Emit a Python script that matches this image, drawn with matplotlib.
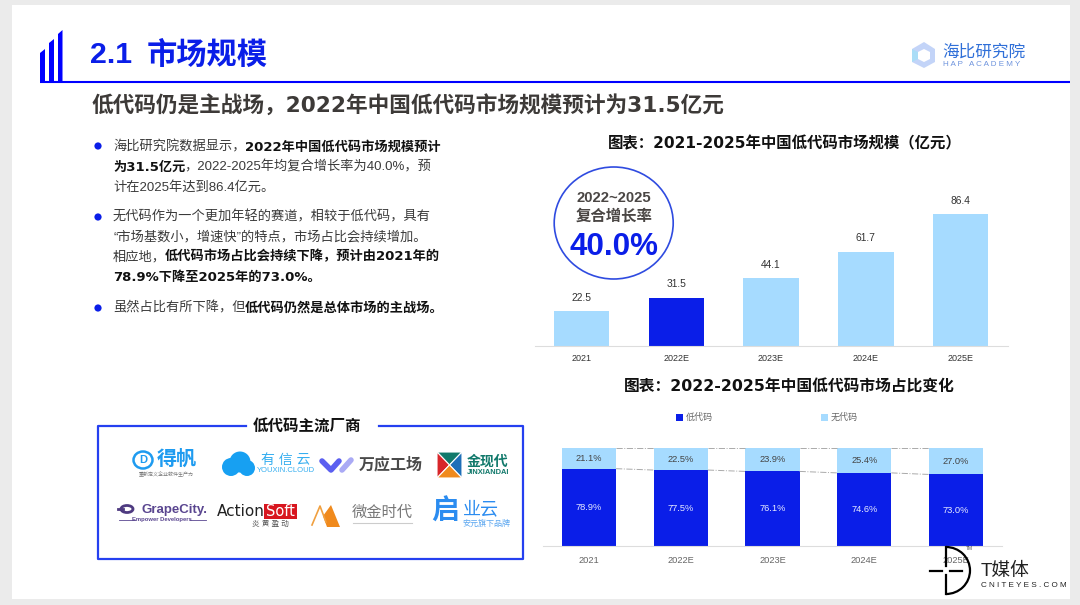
import matplotlib
matplotlib.use("Agg")
import matplotlib.pyplot as plt
from matplotlib.patches import Rectangle, Circle, Ellipse, Polygon, Arc

plt.rcParams['font.family'] = ['Liberation Sans', 'Noto Sans CJK SC', 'DejaVu Sans']
WIDE = ['DejaVu Sans', 'Noto Sans CJK SC']  # жирные цифры пошире

# Данные
years = ["2021", "2022E", "2023E", "2024E", "2025E"]
market_size = [22.5, 31.5, 44.1, 61.7, 86.4]
low_code = [78.9, 77.5, 76.1, 74.6, 73.0]
no_code = [21.1, 22.5, 23.9, 25.4, 27.0]

BLUE = "#0a1ee8"
LIGHT = "#a6dbff"
W, H = 1080, 605

fig = plt.figure(figsize=(W / 100, H / 100), dpi=100, facecolor="#ebebeb")

# Слой в пикселях для оформления
page = fig.add_axes([0, 0, 1, 1])
page.set_xlim(0, W)
page.set_ylim(H, 0)
page.axis("off")
page.add_patch(Rectangle((12, 5), 1058, 594, fc="white", ec="none"))


def axes_px(x0, y0, x1, y1):
    return fig.add_axes([x0 / W, 1 - y1 / H, (x1 - x0) / W, (y1 - y0) / H], facecolor="none")


def txt(x, y, s, size, color="#333333", weight="normal", ha="center", **kw):
    return page.text(x, y, s, fontsize=size, color=color, fontweight=weight, ha=ha, va="center", **kw)


def runs(x, y, parts, size=9.5):
    # строка из обычных и жирных кусков
    rend = fig.canvas.get_renderer()
    for s, bold in parts:
        if bold:
            t = txt(x, y, s, size, "#111111", "bold", ha="left", family=WIDE)
        else:
            t = txt(x, y, s, size, "#3a3a3a", ha="left")
        x = page.transData.inverted().transform(t.get_window_extent(rend).corners())[:, 0].max() - 1


# Шапка
for x0, x1, top in [(40, 45, 49), (49, 54, 39), (58, 62.5, 30)]:
    page.add_patch(Polygon([(x0, 82), (x0, top + 4), (x1, top), (x1, 82)], fc="#0000ff", ec="none"))
page.plot([39.5, 1070], [82, 82], color="#0000ff", lw=1.5, solid_capstyle="butt")
txt(90, 55, "2.1", 21.8, BLUE, "bold", ha="left")
txt(147, 55, "市场规模", 21.8, BLUE, "bold", ha="left")
txt(92, 105, "低代码仍是主战场，2022年中国低代码市场规模预计为31.5亿元", 15.6, "#3d3a38", "bold", ha="left", family=WIDE)

# Логотип справа вверху
page.add_patch(Polygon([(912, 49), (924, 42), (935, 49), (935, 62), (924, 68), (912, 62)], fc="#c3d4f8", ec="none"))
page.add_patch(Polygon([(918, 52), (924, 49), (930, 52), (930, 59), (924, 62), (918, 59)], fc="white", ec="none"))
page.add_patch(Polygon([(912, 49), (918, 52), (918, 59), (912, 62)], fc="#a9ddf7", ec="none"))
txt(984, 52, "海比研究院", 12, "#2f6fd8")
txt(982, 65, "H A P   A C A D E M Y", 5.8, "#6d93dd")

# Текст слева
for y in [146, 217, 308]:
    page.add_patch(Circle((98, y), 3.6, fc=BLUE, ec="none"))
runs(113, 147, [("海比研究院数据显示，", False), ("2022年中国低代码市场规模预计", True)])
runs(113, 167, [("为31.5亿元", True), ("，2022-2025年均复合增长率为40.0%，预", False)])
runs(113, 187, [("计在2025年达到86.4亿元。", False)])
runs(113, 217, [("无代码作为一个更加年轻的赛道，相较于低代码，具有", False)])
runs(113, 237, [("“市场基数小，增速快”的特点，市场占比会持续增加。", False)])
runs(113, 257, [("相应地，", False), ("低代码市场占比会持续下降，预计由2021年的", True)])
runs(113, 277, [("78.9%下降至2025年的73.0%。", True)])
runs(113, 308, [("虽然占比有所下降，但", False), ("低代码仍然是总体市场的主战场。", True)])

# Рамка с вендорами
page.plot([246, 97.5, 97.5, 523, 523, 379], [426, 426, 559, 559, 426, 426], color="#2540f0", lw=1.6)
txt(307, 426, "低代码主流厂商", 11.2, "#111111", "bold")

# 得帆
page.add_patch(Ellipse((143, 460), 19, 17, fc="none", ec="#1e9bf0", lw=1.8))
txt(143, 460, "D", 8, "#1e9bf0", "bold")
txt(177, 459, "得帆", 14.5, "#1e9bf0", "bold")
txt(166, 474, "重新定义企业软件生产力", 3.6, "#777777")
# 有信云
for cx, cy, r in [(231, 467, 9), (240, 462, 10.5), (247, 468, 8)]:
    page.add_patch(Circle((cx, cy), r, fc="#17a0f2", ec="none"))
txt(286, 460, "有 信 云", 10, "#35aef0")
txt(286, 471, "YOUXIN.CLOUD", 5.5, "#35aef0")
# 万应工场
page.plot([322, 331, 339], [461, 470, 461], color="#5b5ff0", lw=4, solid_capstyle="round")
page.plot([342, 351], [470, 460], color="#aaaaf5", lw=4, solid_capstyle="round")
txt(391, 465, "万应工场", 11.5, "#4a4a4a", "bold")
# 金现代
page.add_patch(Polygon([(437, 452), (462, 452), (449.5, 465)], fc="#11796b", ec="white", lw=0.8))
page.add_patch(Polygon([(437, 452), (449.5, 465), (437, 478)], fc="#d8262a", ec="white", lw=0.8))
page.add_patch(Polygon([(462, 452), (449.5, 465), (462, 478)], fc="#1e6fb8", ec="white", lw=0.8))
page.add_patch(Polygon([(437, 478), (449.5, 465), (462, 478)], fc="#f08a1d", ec="white", lw=0.8))
txt(488, 462, "金现代", 10, "#11796b", "bold")
txt(488, 472, "JINXIANDAI", 5.4, "#11796b", "bold")
# GrapeCity
page.add_patch(Ellipse((127, 509), 12, 7, fc="none", ec="#4e3a80", lw=2))
page.plot([118, 123], [509, 509], color="#4e3a80", lw=2)
txt(175, 510, "GrapeCity.", 9.5, "#5a4690", "bold")
txt(162, 520, "Empower Developers", 4.2, "#5a4690", "bold")
page.plot([119, 135], [520, 520], color="#5a4690", lw=0.6)
page.plot([190, 206], [520, 520], color="#5a4690", lw=0.6)
# ActionSoft
txt(241, 512, "Action", 11, "#222222", family="DejaVu Sans")
page.add_patch(Rectangle((264, 504), 33, 15, fc="#d8161f", ec="none"))
txt(280.5, 511.5, "Soft", 10.5, "white", family="DejaVu Sans")
txt(270, 524, "炎 黄 盈 动", 5.5, "#555555")
# 微金时代
page.add_patch(Polygon([(327, 527), (340, 527), (331, 505), (323, 516)], fc="#f08a1d", ec="none"))
page.plot([312, 320, 326], [525, 506, 522], color="#f0a040", lw=1.2)
txt(382, 513, "微金时代", 11, "#777777")
page.plot([353, 412], [523, 523], color="#cccccc", lw=0.8)
# 启业云
txt(445, 513, "启", 20, "#2b8cf0", "bold")
txt(481, 510, "业云", 13, "#2b8cf0")
txt(486, 524, "安元旗下品牌", 5.8, "#5aa6f0")

# Верхний график: рынок
txt(784.5, 144, "图表：2021-2025年中国低代码市场规模（亿元）", 11.1, "#111111", "bold", family=WIDE)
ax1 = axes_px(535, 190, 1008, 345.5)
colors = [LIGHT, BLUE, LIGHT, LIGHT, LIGHT]
bars = ax1.bar(range(5), market_size, width=0.585, color=colors)
ax1.bar_label(bars, labels=[f"{v:.1f}" for v in market_size], padding=6, fontsize=7.4, color="#333333")
ax1.set_xlim(-0.49, 4.5)
ax1.set_ylim(0, 102.2)
ax1.set_xticks(range(5), years)
ax1.set_yticks([])
ax1.tick_params(axis="x", length=0, labelsize=6.5, labelcolor="#333333", pad=6)
for s in ["top", "left", "right"]:
    ax1.spines[s].set_visible(False)
ax1.spines["bottom"].set_color("#dddddd")

# Эллипс с CAGR
page.add_patch(Ellipse((613.7, 223), 119, 112, fc="white", ec="#2f4be0", lw=1.2))
txt(614, 197.5, "2022~2025", 10.7, "#4a4644", "bold")
txt(614, 216, "复合增长率", 11.1, "#4a4644", "bold")
txt(614, 247, "40.0%", 22.6, BLUE, "bold")

# Нижний график: доли
txt(789, 387, "图表：2022-2025年中国低代码市场占比变化", 11.3, "#111111", "bold", family=WIDE)
ax2 = axes_px(543, 448, 1002, 546)
b_low = ax2.bar(range(5), low_code, width=0.59, color=BLUE, label="低代码")
b_no = ax2.bar(range(5), no_code, width=0.59, bottom=low_code, color=LIGHT, label="无代码")
ax2.bar_label(b_low, labels=[f"{v:.1f}%" for v in low_code], label_type="center", fontsize=6.7, color="#e8ecff")
ax2.bar_label(b_no, labels=[f"{v:.1f}%" for v in no_code], label_type="center", fontsize=6.7, color="#444444")
for i in range(4):
    ax2.plot([i + 0.295, i + 1 - 0.295], [100, 100], color="#aaaaaa", lw=0.7, ls="-.", clip_on=False)
    ax2.plot([i + 0.295, i + 1 - 0.295], [low_code[i], low_code[i + 1]], color="#aaaaaa", lw=0.7, ls="-.")
ax2.set_xlim(-0.501, 4.5)
ax2.set_ylim(0, 100)
ax2.set_xticks(range(5), years)
ax2.set_yticks([])
ax2.tick_params(axis="x", length=0, labelsize=6.7, labelcolor="#666666", pad=7)
for s in ["top", "left", "right"]:
    ax2.spines[s].set_visible(False)
ax2.spines["bottom"].set_color("#dddddd")
ax2.legend(loc="center", bbox_to_anchor=(0.488, 1.31), ncols=2, frameon=False, fontsize=6.5,
           labelcolor="#666666", handlelength=0.8, handleheight=0.8, handletextpad=0.3, columnspacing=12)

# Водяной знак
mark = axes_px(0, 0, W, H)
mark.set_xlim(0, W)
mark.set_ylim(H, 0)
mark.axis("off")
mark.add_patch(Arc((946, 570.5), 48, 47, theta1=-90, theta2=90, ec="black", lw=1.6))
mark.plot([946, 946], [547, 566], color="black", lw=1.6)
mark.plot([946, 946], [575, 594], color="black", lw=1.6)
mark.plot([930, 942], [571, 571], color="black", lw=1.6)
mark.plot([950, 962], [571, 571], color="black", lw=1.6)
mark.text(969, 548, "TM", fontsize=3.5, color="#555555", ha="center", va="center")
mark.text(981, 571, "T媒体", fontsize=13.5, color="#222222", ha="left", va="center")
mark.text(981, 585.5, "C N I T E Y E S . C O M", fontsize=5.9, color="#222222", ha="left", va="center")

fig.savefig("out.png", dpi=100, facecolor=fig.get_facecolor())
